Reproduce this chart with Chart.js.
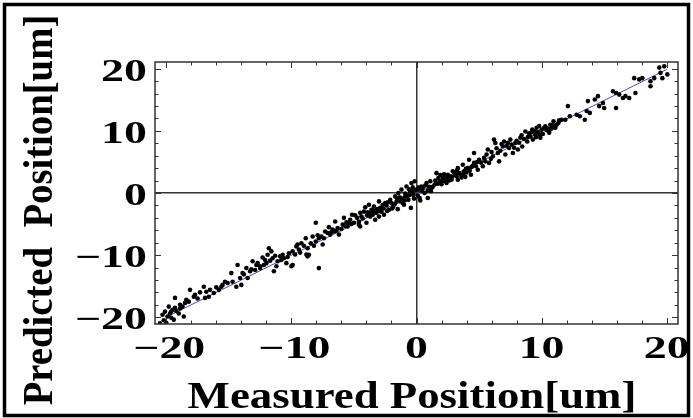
<!DOCTYPE html>
<html>
<head>
<meta charset="utf-8">
<script src="https://cdn.jsdelivr.net/npm/chart.js@4.4.1/dist/chart.umd.min.js"></script>
<style>
  html, body { margin: 0; padding: 0; background: #fff; }
  #wrap { width: 693px; height: 418px; position: relative; }
</style>
</head>
<body>
<div id="wrap"><canvas id="c" width="693" height="418"></canvas></div>
<script>
// Measured vs predicted position samples, [measured, predicted] in um
const pointsA = [
  [-20.5,-21.0],[-20.2,-20.5],[-20.0,-20.9],[-19.9,-19.9],[-20.3,-19.6],[-19.7,-19.4],[-19.8,-18.3],
  [-19.6,-19.1],[-19.5,-18.8],[-19.3,-18.5],[-19.4,-20.4],[-19.3,-16.9],[-19.0,-19.4],[-18.6,-19.9],
  [-18.9,-18.0],[-18.9,-18.6],[-18.5,-17.7],[-18.4,-17.2],[-18.1,-15.6],[-17.8,-16.7],[-17.7,-16.4],
  [-17.3,-16.0],[-17.0,-15.1],[-16.9,-16.9],[-16.6,-16.7],[-16.5,-15.6],[-16.2,-16.1],[-15.8,-15.6],
  [-15.5,-14.8],[-15.3,-14.3],[-15.1,-14.5],[-14.8,-12.9],[-14.7,-14.3],[-14.4,-15.1],[-14.3,-11.6],
  [-14.1,-13.7],[-14.0,-14.8],[-13.9,-12.9],[-13.6,-12.1],[-13.5,-13.7],[-13.3,-12.6],[-13.1,-11.0],
  [-12.8,-11.6],[-12.5,-12.1],[-12.7,-11.3],
  [-20.1,-19.1],[-19.6,-20.1],[-19.2,-19.0],[-18.7,-18.3],[-18.2,-17.5],[-17.5,-17.0],[-16.8,-15.9],
  [-16.0,-15.2],[-15.6,-15.1],[-13.8,-13.1],[-13.2,-12.3],[-12.9,-12.4]
];
const pointsB = [
  [-12.5,-11.8],[-12.1,-10.8],[-11.9,-9.95],[-12.0,-11.3],[-12.3,-10.4],[-11.8,-8.9],[-11.6,-9.4],
  [-11.5,-10.5],[-11.4,-12.6],[-11.2,-11.8],[-11.1,-11.0],[-10.9,-10.2],[-10.7,-9.95],[-10.6,-10.5],
  [-10.4,-11.3],[-10.0,-11.8],[-10.2,-9.7],[-9.9,-9.4],[-9.9,-11.6],[-9.6,-8.6],[-9.4,-9.1],
  [-9.3,-9.6],[-9.2,-8.1],[-8.85,-7.3],[-8.7,-8.9],[-8.8,-9.9],[-8.7,-10.2],[-8.6,-9.95],
  [-8.45,-8.1],[-8.3,-7.0],[-8.05,-4.8],[-8.05,-7.8],[-7.8,-12.1],[-7.8,-7.3],[-7.5,-8.3],
  [-7.4,-7.3],[-7.3,-6.2],[-7.1,-6.45],[-7.0,-5.5],[-6.9,-6.7],[-6.7,-5.9],[-6.6,-6.2],
  [-6.3,-5.65],[-6.5,-4.6],[-6.2,-6.7],[-6.0,-5.8],[-5.9,-5.1],[-5.8,-4.0],[-5.6,-4.7],
  [-5.5,-5.4],[-5.3,-4.3],[-5.2,-5.0],[-5.15,-3.5],[-5.0,-4.8],[-4.9,-3.6],[-4.75,-4.0],
  [-4.6,-5.1],[-4.5,-3.2],
  [-12.2,-11.6],[-11.7,-10.9],[-11.3,-10.1],[-10.8,-10.8],[-10.3,-10.3],[-9.7,-9.9],[-9.5,-8.3],
  [-9.0,-8.5],[-8.2,-8.5],[-7.9,-6.8],[-7.6,-7.0],[-6.8,-6.3],[-6.4,-6.1],[-5.7,-5.3],[-5.4,-4.8]
];
const pointsC = [
  [-4.6,-4.6],[-4.4,-3.8],[-4.2,-3.0],[-4.5,-5.4],[-4.1,-2.3],[-3.9,-3.1],[-3.8,-1.9],[-4.0,-4.8],
  [-3.7,-3.8],[-3.6,-2.7],[-3.5,-3.5],[-3.4,-2.2],[-3.3,-4.3],[-3.2,-3.2],[-3.0,-1.35],[-3.0,-3.8],
  [-2.9,-2.4],[-2.8,-3.0],[-2.7,-1.9],[-2.6,-3.5],[-2.5,-1.6],[-2.4,-2.0],[-2.2,-2.7],[-2.1,-1.1],
  [-2.0,-1.6],[-1.85,-2.2],[-1.7,-0.55],[-1.6,-1.4],[-1.5,-2.6],[-1.45,0.0],[-1.3,-1.35],[-1.2,0.55],
  [-1.1,-1.6],[-1.0,-1.9],[-0.9,-0.55],[-0.9,-0.1],[-0.8,1.05],[-0.65,-1.1],[-0.6,0.6],[-0.5,0.25],
  [-0.45,-2.4],[-0.4,1.6],[-0.3,0.9],[-0.25,-0.3],[-0.15,1.9],[0.1,-0.4],[0.15,0.55],[0.25,-0.8],
  [0.3,-1.2],[0.4,1.05],[0.5,0.8],[0.65,0.0],[0.8,1.6],[0.9,-0.8],[0.9,0.4],[1.1,1.9],[1.2,0.8],
  [1.3,1.0],[1.45,1.35],[1.6,3.2],[1.7,1.5],[1.85,1.9],[1.9,2.9],[2.0,1.4],[2.1,2.4],[2.2,3.0],
  [2.3,1.9],[2.4,1.6],[2.5,2.95],[2.6,2.0],[2.7,2.7],[2.8,2.15],[2.9,3.5],[3.0,3.3],[3.2,2.7],
  [3.3,4.0],[3.4,3.2],
  [-4.3,-4.1],[-3.95,-3.6],[-3.65,-3.2],[-3.45,-2.9],[-3.15,-2.6],[-2.95,-2.9],[-2.65,-2.5],
  [-2.35,-2.9],[-2.3,-1.5],[-1.95,-2.5],[-1.75,-1.8],[-1.55,-0.9],[-1.35,-0.7],[-1.15,-0.9],
  [-0.95,-1.2],[-0.75,-0.5],[-0.55,-0.3],[-0.35,0.3],[-0.2,-0.9],[-0.05,0.5],
  [0.2,0.9],[0.45,0.3],[0.7,1.2],[1.0,1.0],[1.15,0.3],[1.5,2.0],[1.75,2.4],[2.05,1.9],
  [2.35,2.5],[2.55,2.4],[2.85,2.6],[3.1,3.0],[3.25,3.6]
];
const pointsD = [
  [3.3,2.15],[3.55,2.95],[3.6,2.5],[3.7,4.55],[3.8,3.5],[3.9,2.6],[4.0,3.3],[4.1,4.0],[4.2,5.35],
  [4.35,2.95],[4.4,4.2],[4.6,4.85],[4.6,6.45],[4.9,3.75],[5.0,5.35],[5.3,4.3],[5.4,5.65],[5.7,7.0],
  [5.8,4.85],[6.1,5.9],[6.2,8.6],[6.3,8.05],[6.5,6.45],[6.6,5.1],[6.9,7.5],[7.0,8.3],[7.1,6.2],
  [7.4,7.25],[7.5,8.6],[7.7,6.45],[7.9,8.05],[8.0,8.4],[8.1,7.0],[8.3,8.9],[8.45,7.5],[8.6,8.7],
  [8.7,9.9],[8.85,8.3],[9.0,9.6],[9.1,9.1],[9.25,10.2],[9.3,8.6],[9.5,9.4],[9.6,10.5],[9.7,9.8],
  [9.8,10.8],[9.9,8.9],[10.0,10.2],[10.1,9.5],[10.3,10.75],[10.4,10.1],[10.6,9.7],[10.7,11.0],
  [10.8,10.4],[10.95,11.55],[11.1,10.5],[11.2,11.0],[11.35,11.3],[11.6,11.8],
  [3.7,3.0],[3.95,3.9],[4.25,3.6],[4.5,4.4],[4.75,4.3],[4.85,5.0],[5.15,4.9],[5.5,5.1],
  [5.6,6.2],[5.95,5.5],[6.0,6.6],[6.4,7.2],[6.7,6.8],[6.8,7.9],[7.2,7.6],[7.3,8.1],[7.6,7.8],
  [7.8,7.3],[8.2,8.1],[8.4,9.3],[8.9,9.0],[9.2,9.8],[9.4,10.0],[9.55,9.0],[9.85,9.4],
  [10.2,10.5],[10.5,10.4],[10.9,10.9],[11.4,11.7],[10.65,10.2]
];
const pointsE = [
  [11.9,11.8],[12.25,12.35],[12.1,14.0],[12.8,12.6],[13.05,12.35],[13.45,11.8],[13.6,13.2],
  [13.85,12.9],[13.7,14.8],[14.25,15.05],[14.5,15.6],[14.6,14.0],[14.9,14.5],[15.0,13.7],
  [15.7,16.4],[15.95,16.1],[15.95,13.7],[16.2,15.85],[16.5,15.3],[16.7,15.6],[17.0,15.3],
  [17.4,18.5],[17.5,16.1],[17.8,18.3],[18.05,18.5],[18.7,18.0],[18.7,17.2],[19.0,18.5],
  [19.4,20.2],[19.5,19.35],[19.8,20.4],[20.05,19.1],[19.65,18.5]
];

// Fitted line through the samples
const fitX = [-20.0, 20.0];
const fitY = [-20.0, 19.9];

// Axis tick values
const xTicks = [-20, -10, 0, 10, 20];
const yTicks = [-20, -10, 0, 10, 20];
const minorStep = 2;

const xTitle = 'Measured Position[um]';
const yTitle = 'Predicted  Position[um]';

const SERIF = '"Liberation Serif", "Times New Roman", serif';
const allPoints = [].concat(pointsA, pointsB, pointsC, pointsD, pointsE);

const fmt = v => (v < 0 ? '\u2212' + Math.abs(v) : String(v));

// Text drawn with a horizontal stretch factor (the typeface runs wide)
function wideText(ctx, text, x, y, font, sx, align) {
  ctx.save();
  ctx.translate(x, y);
  ctx.scale(sx, 1);
  ctx.font = font;
  ctx.textAlign = align;
  ctx.textBaseline = 'alphabetic';
  ctx.fillText(text, 0, 0);
  ctx.restore();
}

const TICK_FONT = 'bold 31px ' + SERIF;
const TICK_SX = 1.48;

// Frame, inner tick marks, tick labels, axis titles and the outer border
const decorations = {
  id: 'decorations',
  afterDatasetsDraw(chart) {
    const { ctx, chartArea: a, scales: { x, y } } = chart;
    ctx.save();
    ctx.strokeStyle = '#333';
    ctx.lineWidth = 1.5;
    ctx.strokeRect(a.left, a.top, a.right - a.left, a.bottom - a.top);

    ctx.lineWidth = 1;
    ctx.beginPath();
    for (let v = -20; v <= 20; v += minorStep) {
      const len = xTicks.includes(v) ? 6 : 3.5;
      const px = Math.round(x.getPixelForValue(v)) + 0.5;
      ctx.moveTo(px, a.bottom); ctx.lineTo(px, a.bottom - len);
      ctx.moveTo(px, a.top); ctx.lineTo(px, a.top + len);
    }
    for (let v = -20; v <= 20; v += minorStep) {
      const len = yTicks.includes(v) ? 6 : 3.5;
      const py = Math.round(y.getPixelForValue(v)) + 0.5;
      ctx.moveTo(a.left, py); ctx.lineTo(a.left + len, py);
      ctx.moveTo(a.right, py); ctx.lineTo(a.right - len, py);
    }
    ctx.stroke();
    ctx.restore();

    ctx.save();
    ctx.fillStyle = '#000';
    x.ticks.forEach(t => {
      if (!xTicks.includes(t.value)) return;
      const px = x.getPixelForValue(t.value) + (t.value < 0 ? 3 : 0);
      wideText(ctx, fmt(t.value), px, a.bottom + 34, TICK_FONT, TICK_SX, 'center');
    });
    y.ticks.forEach(t => {
      if (!yTicks.includes(t.value)) return;
      const py = y.getPixelForValue(t.value);
      wideText(ctx, fmt(t.value), a.left - 8, py + 12, TICK_FONT, TICK_SX, 'right');
    });
    ctx.restore();
  },
  afterDraw(chart) {
    const { ctx, width, height } = chart;
    ctx.save();
    ctx.fillStyle = '#000';
    wideText(ctx, xTitle, 412, 408, 'bold 38px ' + SERIF, 1.18, 'center');

    ctx.save();
    ctx.translate(52, 210);
    ctx.rotate(-Math.PI / 2);
    ctx.scale(0.9, 1);
    ctx.font = 'bold 43px ' + SERIF;
    ctx.textAlign = 'center';
    ctx.textBaseline = 'alphabetic';
    ctx.fillText(yTitle, 0, 0);
    ctx.restore();
    ctx.restore();

    ctx.save();
    ctx.strokeStyle = '#000';
    ctx.lineWidth = 3.5;
    ctx.strokeRect(4.5, 4.5, width - 9, height - 7);
    ctx.restore();
  }
};

new Chart(document.getElementById('c'), {
  type: 'scatter',
  data: {
    datasets: [
      {
        type: 'line',
        data: fitX.map((v, i) => ({ x: v, y: fitY[i] })),
        borderColor: '#4a4ab6',
        borderWidth: 1,
        pointRadius: 0,
        order: 2
      },
      {
        data: allPoints.map(p => ({ x: p[0], y: p[1] })),
        backgroundColor: '#000',
        borderWidth: 0,
        pointRadius: 2.3,
        order: 1
      }
    ]
  },
  options: {
    responsive: false,
    animation: false,
    events: [],
    layout: { padding: { left: 0, right: 15, top: 62, bottom: 0 } },
    plugins: { legend: { display: false }, tooltip: { enabled: false } },
    scales: {
      x: {
        type: 'linear', min: -20.9, max: 20.9,
        afterFit: s => { s.height = 94; },
        ticks: { display: false, stepSize: 10, includeBounds: false, autoSkip: false },
        grid: {
          drawTicks: false, lineWidth: 1.5,
          color: c => (c.tick && c.tick.value === 0 ? '#333' : 'rgba(0,0,0,0)')
        },
        border: { display: false }
      },
      y: {
        type: 'linear', min: -21.1, max: 21.1,
        afterFit: s => { s.width = 155; },
        ticks: { display: false, stepSize: 10, includeBounds: false, autoSkip: false },
        grid: {
          drawTicks: false, lineWidth: 1.5,
          color: c => (c.tick && c.tick.value === 0 ? '#333' : 'rgba(0,0,0,0)')
        },
        border: { display: false }
      }
    }
  },
  plugins: [decorations]
});
</script>
</body>
</html>
